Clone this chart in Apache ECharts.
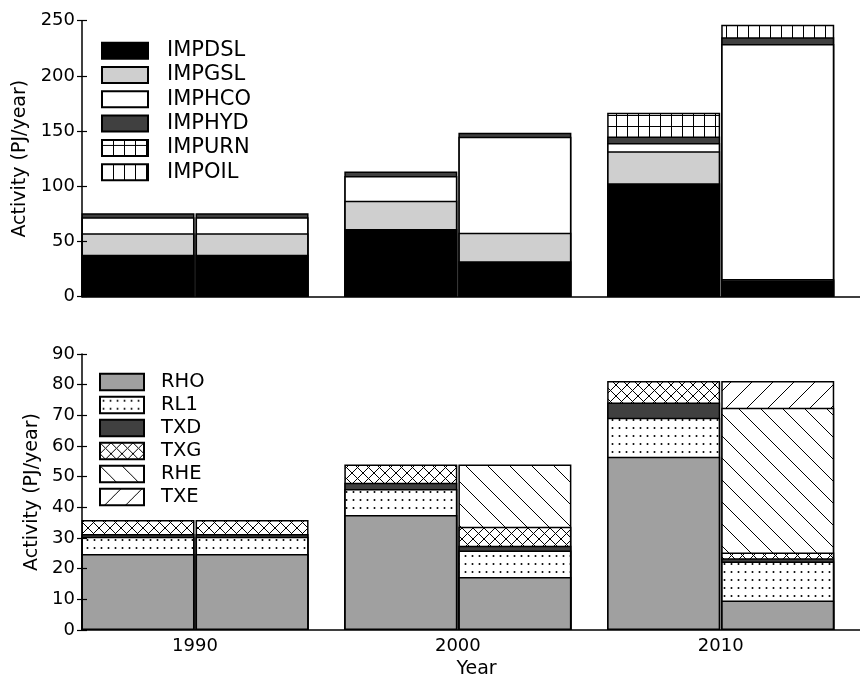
<!DOCTYPE html>
<html>
<head>
<meta charset="utf-8">
<script src="https://cdn.jsdelivr.net/npm/echarts@6/dist/echarts.min.js"></script>
<style>
  html, body { margin: 0; padding: 0; background: #fff; }
  #chart { width: 860px; height: 682px; }
</style>
</head>
<body>
<div id="chart"></div>
<script>
// years on the x axis; each year has two bars side by side (left, right)
const years = [1990, 2000, 2010];
const yearTicks = [1990, 2000, 2010];

// top panel (imports) - values per bar: 1990L, 1990R, 2000L, 2000R, 2010L, 2010R
const IMPDSL = [38, 38, 61.3, 32.2, 102.7, 15];
const IMPGSL = [19.5, 19.5, 25.5, 25.8, 29, 1];
const IMPHCO = [14.5, 14.5, 22.5, 86.8, 7.5, 212.8];
const IMPHYD = [3.6, 3.6, 4.1, 3.8, 6, 6.1];
const IMPURN = [null, null, null, null, 21.4, null];
const IMPOIL = [null, null, null, null, null, 11.4];

// bottom panel
const RHO = [24.8, 24.8, 37.5, 17.3, 56.5, 9.6];
const RL1 = [5.6, 5.6, 8.5, 8.6, 12.7, 12.7];
const TXD = [0.9, 0.9, 2.0, 1.6, 5.0, 1.1];
const TXG = [4.6, 4.6, 6.0, 6.2, 7.0, 1.9];
const RHE = [null, null, null, 20.3, null, 47.2];
const TXE = [null, null, null, null, null, 8.7];

const topNames = ['IMPDSL', 'IMPGSL', 'IMPHCO', 'IMPHYD', 'IMPURN', 'IMPOIL'];
const botNames = ['RHO', 'RL1', 'TXD', 'TXG', 'RHE', 'TXE'];

const topTicks = { min: 0, max: 250, interval: 50 };
const botTicks = { min: 0, max: 90, interval: 10 };

const FONT = 'DejaVu Sans';

// bar x positions: year -/+ half a bar
const half = 2.17;
const positions = [];
years.forEach(y => { positions.push(y - half); positions.push(y + half); });

// hatch tiles drawn on small canvases
function tile(w, h, draw) {
  const c = document.createElement('canvas');
  c.width = w; c.height = h;
  const ctx = c.getContext('2d');
  ctx.fillStyle = '#fff';
  ctx.fillRect(0, 0, w, h);
  ctx.strokeStyle = '#000';
  ctx.fillStyle = '#000';
  ctx.lineWidth = 1;
  draw(ctx, w, h);
  return { image: c, repeat: 'repeat' };
}
function back(ctx, w, h) { // "\"
  ctx.beginPath();
  for (let k = -1; k <= 1; k++) { ctx.moveTo(k * w - 1, -1); ctx.lineTo(k * w + w + 1, h + 1); }
  ctx.stroke();
}
function fwd(ctx, w, h) { // "/"
  ctx.beginPath();
  for (let k = -1; k <= 1; k++) { ctx.moveTo(k * w - 1, h + 1); ctx.lineTo(k * w + w + 1, -1); }
  ctx.stroke();
}

const fills = {
  IMPDSL: '#000000',
  IMPGSL: '#cfcfcf',
  IMPHCO: '#ffffff',
  IMPHYD: '#404040',
  IMPURN: tile(11, 11, (ctx, w, h) => {
    ctx.beginPath();
    ctx.moveTo(0.5, 0); ctx.lineTo(0.5, h);
    ctx.moveTo(0, 5.5); ctx.lineTo(w, 5.5);
    ctx.stroke();
  }),
  IMPOIL: tile(11, 11, (ctx, w, h) => {
    ctx.beginPath();
    ctx.moveTo(0.5, 0); ctx.lineTo(0.5, h);
    ctx.stroke();
  }),
  RHO: '#a0a0a0',
  RL1: tile(7, 8, (ctx) => {
    ctx.beginPath();
    ctx.arc(3.5, 4, 1, 0, Math.PI * 2);
    ctx.fill();
  }),
  TXD: '#404040',
  TXG: tile(11, 11, (ctx, w, h) => { back(ctx, w, h); fwd(ctx, w, h); }),
  RHE: tile(22, 22, back),
  TXE: tile(21, 21, fwd)
};

// running tops of the stacked segments (bottom to top)
function stackTops(list) {
  const run = positions.map(() => 0);
  return list.map(vals => vals.map((v, i) => {
    if (v == null) return null;
    run[i] += v;
    return run[i];
  }));
}

// each segment is a bar from 0 to its stack top; lower segments are drawn
// later so they cover the part of the upper ones below them
function panelSeries(names, values, gridIdx) {
  const tops = stackTops(values);
  const out = names.map((name, k) => ({
    name: name,
    type: 'bar',
    xAxisIndex: gridIdx,
    yAxisIndex: gridIdx,
    barWidth: 113,
    barGap: '-100%',
    data: positions.map((x, i) => [x, tops[k][i] == null ? '-' : tops[k][i]]),
    itemStyle: { color: fills[name], borderColor: '#000', borderWidth: 1.5 },
    emphasis: { disabled: true }
  }));
  return out.reverse();
}

const series = []
  .concat(panelSeries(topNames, [IMPDSL, IMPGSL, IMPHCO, IMPHYD, IMPURN, IMPOIL], 0))
  .concat(panelSeries(botNames, [RHO, RL1, TXD, TXG, RHE, TXE], 1));

const lineStyle = { color: '#000', width: 1.5 };
const tickText = { fontFamily: FONT, fontSize: 18, color: '#000' };
const titleText = { fontFamily: FONT, fontSize: 19, color: '#000' };

function xAxis(gridIndex, withLabels) {
  return {
    type: 'value', gridIndex: gridIndex,
    min: 1985.7, max: 2015.3,
    axisLine: { lineStyle: lineStyle },
    axisTick: { show: false },
    splitLine: { show: false },
    axisLabel: withLabels
      ? Object.assign({ customValues: yearTicks, margin: 7, formatter: v => String(v) }, tickText)
      : { show: false },
    name: withLabels ? 'Year' : '',
    nameLocation: 'middle',
    nameGap: 30,
    nameTextStyle: Object.assign({ padding: [0, 0, 0, 11] }, titleText)
  };
}

function yAxis(gridIndex, ticks, nameGap) {
  return {
    type: 'value', gridIndex: gridIndex, position: 'left',
    min: ticks.min, max: ticks.max, interval: ticks.interval,
    axisLine: { show: true, lineStyle: lineStyle },
    axisTick: { show: true, length: 5, lineStyle: { color: '#000', width: 1.2 } },
    splitLine: { show: false },
    axisLabel: Object.assign({ margin: 7 }, tickText),
    name: 'Activity (PJ/year)',
    nameLocation: 'middle',
    nameGap: nameGap,
    nameTextStyle: titleText
  };
}

// second axis only to draw the inner half of the ticks
function yInner(gridIndex, ticks) {
  return {
    type: 'value', gridIndex: gridIndex, position: 'left', z: 10,
    min: ticks.min, max: ticks.max, interval: ticks.interval,
    axisLine: { show: false },
    axisTick: { show: true, inside: true, length: 5, lineStyle: { color: '#000', width: 1.2 } },
    splitLine: { show: false },
    axisLabel: { show: false }
  };
}

const chart = echarts.init(document.getElementById('chart'), null, { renderer: 'canvas' });
chart.setOption({
  animation: false,
  backgroundColor: '#fff',
  textStyle: { fontFamily: FONT },
  grid: [
    { left: 82, top: 20.7, right: 0, height: 276 },
    { left: 82, top: 354, right: 0, height: 276 }
  ],
  legend: [
    {
      data: topNames,
      orient: 'vertical', left: 101, top: 40.2, padding: 0,
      icon: 'rect',
      itemWidth: 46, itemHeight: 16, itemGap: 3.3,
      selectedMode: false,
      textStyle: { fontFamily: FONT, fontSize: 21, color: '#000', lineHeight: 21, padding: [0, 0, 0, 14] }
    },
    {
      data: botNames,
      orient: 'vertical', left: 99, top: 372, padding: 0,
      icon: 'rect',
      itemWidth: 44, itemHeight: 16.5, itemGap: 3,
      selectedMode: false,
      textStyle: { fontFamily: FONT, fontSize: 19.5, color: '#000', lineHeight: 19.5, padding: [0, 0, 0, 12] }
    }
  ],
  xAxis: [xAxis(0, false), xAxis(1, true)],
  yAxis: [yAxis(0, topTicks, 44), yAxis(1, botTicks, 33.5), yInner(0, topTicks), yInner(1, botTicks)],
  series: series
});
</script>
</body>
</html>
